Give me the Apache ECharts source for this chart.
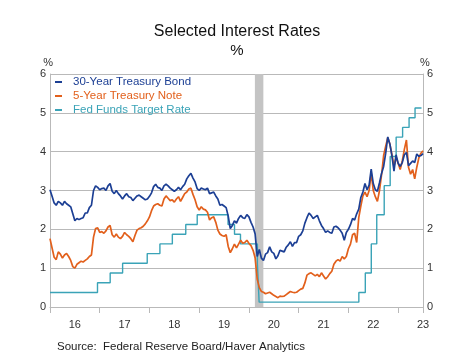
<!DOCTYPE html>
<html>
<head>
<meta charset="utf-8">
<script src="https://cdn.jsdelivr.net/npm/echarts@6/dist/echarts.min.js"></script>
<style>html,body{margin:0;padding:0;background:#fff}#c{width:474px;height:355px}</style>
</head>
<body>
<div id="c"></div>
<script>
// Half-monthly observations starting Jan 2016
const startYear = 2016;
const stepYears = 1 / 24;

const bond30 = [
  3.02,2.85,2.68,2.62,2.72,2.68,2.62,2.72,2.66,2.62,2.58,2.40,2.22,2.28,2.25,2.28,2.30,2.42,2.42,2.56,2.62,3.00,3.12,3.08,
  3.02,3.05,3.06,3.00,3.12,3.18,2.98,2.92,3.00,2.92,2.86,2.78,2.86,2.92,2.84,2.82,2.74,2.80,2.86,2.88,2.84,2.80,2.76,2.78,
  2.85,2.94,3.10,3.16,3.08,3.06,3.00,3.12,3.16,3.12,3.06,3.02,2.98,3.02,3.08,3.02,3.10,3.16,3.30,3.38,3.44,3.32,3.22,3.05,
  3.00,3.06,3.04,3.02,3.06,2.92,2.94,2.96,2.86,2.78,2.62,2.64,2.60,2.56,2.34,2.02,2.10,2.22,2.16,2.28,2.36,2.30,2.28,2.38,
  2.32,2.18,2.06,1.88,1.30,1.48,1.26,1.20,1.36,1.40,1.55,1.42,1.38,1.24,1.32,1.46,1.44,1.42,1.54,1.60,1.68,1.56,1.66,1.66,
  1.82,1.86,1.96,2.16,2.30,2.42,2.36,2.28,2.32,2.36,2.22,2.10,2.02,1.92,1.96,1.92,1.90,2.06,2.08,2.04,1.98,1.90,1.72,1.92,
  2.00,2.12,2.28,2.24,2.40,2.52,2.82,2.96,3.18,3.02,3.14,3.55,3.18,3.02,2.98,3.20,3.44,3.62,3.96,4.38,4.20,3.90,3.50,3.92,
  3.70,3.62,3.72,3.92,3.98,3.64,3.70,3.76,3.72,3.94,3.88,3.90,3.95
];

const note5 = [
  1.76,1.52,1.28,1.22,1.42,1.36,1.26,1.34,1.38,1.30,1.20,1.04,1.00,1.10,1.14,1.18,1.16,1.20,1.24,1.30,1.34,1.80,2.02,2.04,
  1.92,1.94,1.90,1.96,2.06,2.10,1.86,1.80,1.88,1.80,1.76,1.82,1.92,1.86,1.82,1.76,1.68,1.84,1.98,2.02,2.04,2.08,2.14,2.22,
  2.32,2.48,2.60,2.64,2.66,2.62,2.60,2.78,2.86,2.80,2.74,2.76,2.70,2.78,2.84,2.72,2.82,2.92,2.96,3.04,3.06,2.90,2.76,2.58,
  2.50,2.58,2.52,2.50,2.44,2.24,2.30,2.32,2.18,1.98,1.88,1.84,1.82,1.86,1.56,1.40,1.50,1.62,1.52,1.62,1.72,1.64,1.66,1.72,
  1.64,1.58,1.46,1.26,0.72,0.50,0.40,0.38,0.34,0.36,0.38,0.34,0.30,0.27,0.24,0.28,0.27,0.28,0.32,0.36,0.40,0.38,0.37,0.38,
  0.42,0.46,0.48,0.62,0.82,0.86,0.88,0.84,0.80,0.84,0.78,0.88,0.80,0.72,0.78,0.86,0.92,1.10,1.18,1.22,1.18,1.30,1.24,1.30,
  1.50,1.62,1.86,1.90,1.66,2.30,2.60,2.86,2.96,2.84,3.00,3.45,3.00,2.84,2.72,3.00,3.40,3.90,4.14,4.36,4.20,3.92,3.62,3.86,
  3.70,3.54,3.76,4.06,4.30,3.60,3.42,3.54,3.30,3.60,3.84,3.96,4.02
];

// Fed funds target (midpoint) change dates (decimal years) and levels
const fedDates = [2016.0,2016.955,2017.21,2017.46,2017.955,2018.21,2018.46,2018.73,2018.96,2019.58,2019.71,2019.83,2020.17,2020.205,2022.21,2022.34,2022.46,2022.57,2022.72,2022.84,2022.96,2023.09,2023.22,2023.34,2023.47];
const fedRate  = [0.375,0.625,0.875,1.125,1.375,1.625,1.875,2.125,2.375,2.125,1.875,1.625,1.125,0.125,0.375,0.875,1.625,2.375,3.125,3.875,4.375,4.625,4.875,5.125,5.125];

const recession = [2020.12, 2020.29];
const seriesNames = ['30-Year Treasury Bond','5-Year Treasury Note','Fed Funds Target Rate'];
const colors = ['#1c3f94','#e2601c','#3aa3b7'];

const bondData = bond30.map((v,i)=>[startYear + i*stepYears, v]);
const noteData = note5.map((v,i)=>[startYear + i*stepYears, v]);
const fedData = fedDates.map((d,i)=>[d, fedRate[i]]);

const chart = echarts.init(document.getElementById('c'), null, {renderer:'canvas'});
const gridCol = '#b9b9b9';
const yAxisBase = {
  type:'value', min:0, max:6, interval:1,
  name:'%', nameGap:2,
  nameTextStyle:{color:'#333', fontSize:11, fontFamily:'Liberation Sans'},
  axisLine:{show:true, lineStyle:{color:gridCol}},
  axisTick:{show:false},
  axisLabel:{color:'#333', fontSize:11, margin:4, fontFamily:'Liberation Sans'},
  splitLine:{show:true, lineStyle:{color:gridCol, width:1}}
};
chart.setOption({
  animation:false,
  color:colors,
  title:[
    {text:'Selected Interest Rates', subtext:'%', left:'center', top:19, itemGap:3,
     textStyle:{fontSize:16, fontWeight:'normal', color:'#111', fontFamily:'Liberation Sans'},
     subtextStyle:{fontSize:15, color:'#111', fontFamily:'Liberation Sans'}},
    {text:'Source:  Federal Reserve Board/Haver Analytics', left:52, top:336,
     textStyle:{fontSize:11.5, fontWeight:'normal', color:'#222', fontFamily:'Liberation Sans'}}
  ],
  legend:{
    orient:'vertical', left:50, top:71, itemWidth:7, itemHeight:2, itemGap:2,
    icon:'rect', selectedMode:false,
    textStyle:{fontSize:11.5, fontFamily:'Liberation Sans', padding:[0,0,0,6]},
    data:seriesNames.map((n,i)=>({name:n, textStyle:{color:colors[i]}}))
  },
  grid:{left:50, right:51, top:74, bottom:48},
  xAxis:[
    {type:'value', min:2016, max:2023.5, interval:1,
     axisLine:{show:true, onZero:false, lineStyle:{color:gridCol}},
     axisTick:{show:true, length:6, lineStyle:{color:gridCol}},
     axisLabel:{show:false}, splitLine:{show:false}},
    {type:'value', min:2016, max:2023.5, interval:0.5, position:'bottom',
     axisLine:{show:false}, axisTick:{show:false}, splitLine:{show:false},
     axisLabel:{show:true, showMinLabel:true, showMaxLabel:true, margin:12, color:'#333', fontSize:11, fontFamily:'Liberation Sans',
       formatter:function(v){ const f = v - Math.floor(v); return Math.abs(f-0.5)<1e-6 ? String(Math.floor(v)%100) : ''; }}}
  ],
  yAxis:[
    Object.assign({}, yAxisBase, {position:'left', nameTextStyle:Object.assign({}, yAxisBase.nameTextStyle, {align:'right', padding:[0,-3,0,0]})}),
    Object.assign({}, yAxisBase, {position:'right', splitLine:{show:false}, nameTextStyle:Object.assign({}, yAxisBase.nameTextStyle, {align:'left', padding:[0,0,0,-3]})})
  ],
  series:[
    {name:'recession', type:'line', data:[], z:1, silent:true,
     markArea:{silent:true, itemStyle:{color:'#c4c4c4'}, data:[[{xAxis:recession[0]},{xAxis:recession[1]}]]}},
    {name:seriesNames[0], type:'line', data:bondData, showSymbol:false, z:5,
     lineStyle:{width:1.7, color:colors[0]}, itemStyle:{color:colors[0]}},
    {name:seriesNames[1], type:'line', data:noteData, showSymbol:false, z:4,
     lineStyle:{width:1.7, color:colors[1]}, itemStyle:{color:colors[1]}},
    {name:seriesNames[2], type:'line', data:fedData, step:'end', showSymbol:false, z:3,
     lineStyle:{width:1.4, color:colors[2]}, itemStyle:{color:colors[2]}}
  ]
});
</script>
</body>
</html>
